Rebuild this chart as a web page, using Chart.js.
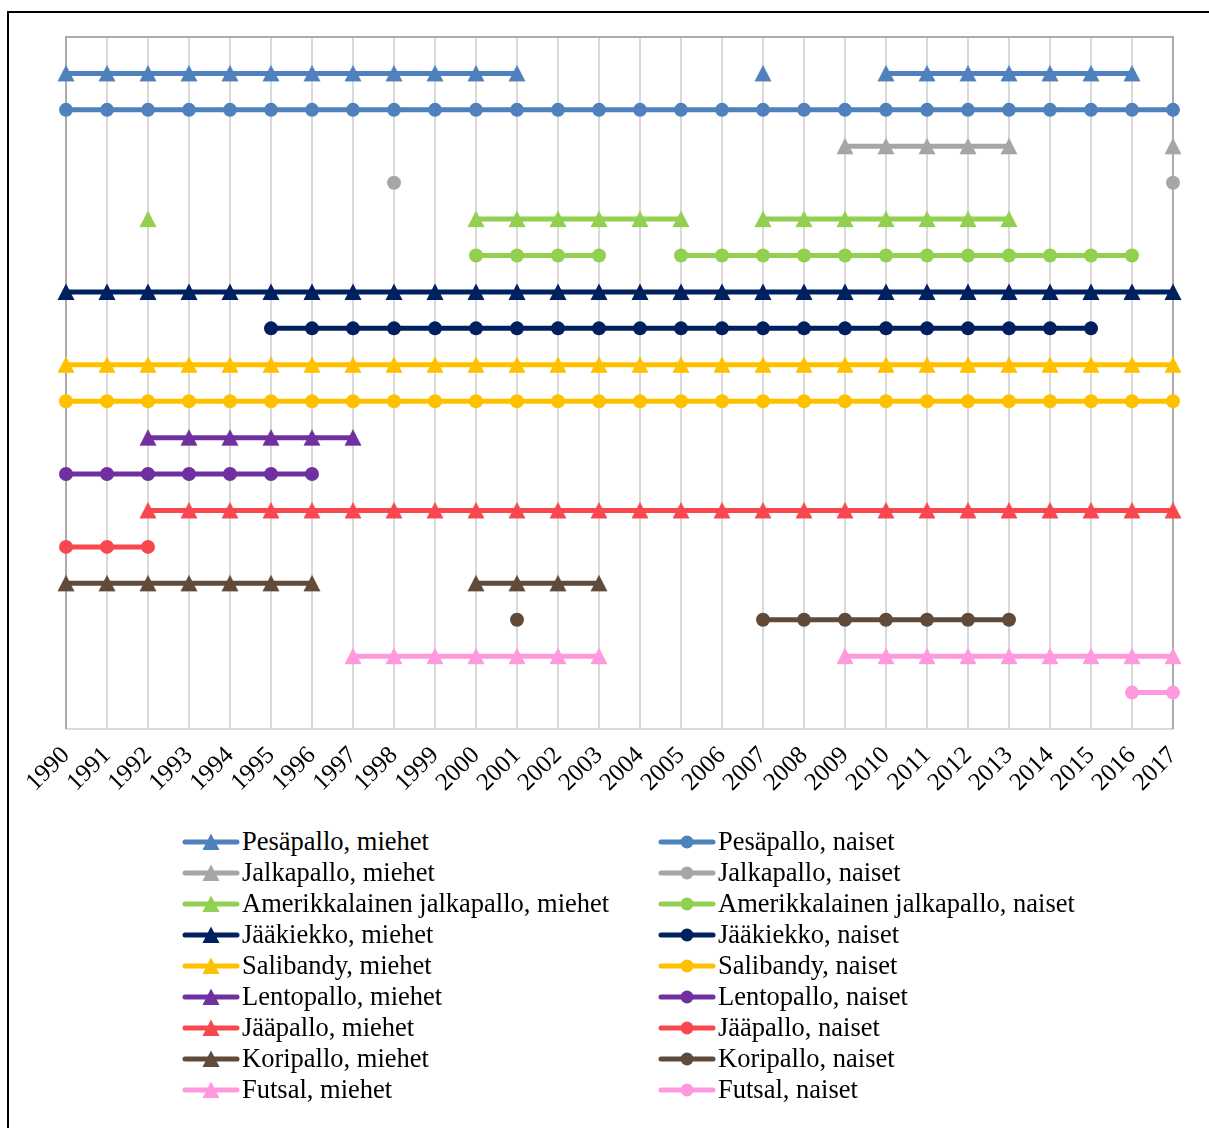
<!DOCTYPE html>
<html>
<head>
<meta charset="utf-8">
<script src="https://cdn.jsdelivr.net/npm/chart.js@4.4.0/dist/chart.umd.min.js"></script>
<style>
  html, body { margin: 0; padding: 0; background: #fff; overflow: hidden; }
  body { width: 1209px; height: 1128px; position: relative; font-family: "Liberation Serif", "Times New Roman", serif; }
  #frame { position: absolute; left: 7px; top: 11px; width: 1240px; height: 1160px; border: 2px solid #000; box-sizing: border-box; }
  #wrap { position: absolute; left: 0; top: 0; width: 1209px; height: 800px; }
  #legend { position: absolute; left: 182px; top: 826px; display: grid; grid-template-columns: 476px 476px; grid-auto-rows: 31px; }
  .item { display: flex; align-items: center; font-size: 26.5px; line-height: 31px; color: #000; white-space: nowrap; }
  .item canvas { margin-right: 2px; }
</style>
</head>
<body>
<div id="frame"></div>
<div id="wrap"><canvas id="chart"></canvas></div>
<div id="legend"></div>
<script>
const years = ['1990','1991','1992','1993','1994','1995','1996','1997','1998','1999',
  '2000','2001','2002','2003','2004','2005','2006','2007','2008','2009',
  '2010','2011','2012','2013','2014','2015','2016','2017'];

const seriesNames = [
  'Pesäpallo, miehet', 'Pesäpallo, naiset',
  'Jalkapallo, miehet', 'Jalkapallo, naiset',
  'Amerikkalainen jalkapallo, miehet', 'Amerikkalainen jalkapallo, naiset',
  'Jääkiekko, miehet', 'Jääkiekko, naiset',
  'Salibandy, miehet', 'Salibandy, naiset',
  'Lentopallo, miehet', 'Lentopallo, naiset',
  'Jääpallo, miehet', 'Jääpallo, naiset',
  'Koripallo, miehet', 'Koripallo, naiset',
  'Futsal, miehet', 'Futsal, naiset'
];

// row of each series on the (hidden) y axis, top row first
const rowLevels = [18, 17, 16, 15, 14, 13, 12, 11, 10, 9, 8, 7, 6, 5, 4, 3, 2, 1];

// years in which each series has a mark
const pesapalloMiehet = [1990,1991,1992,1993,1994,1995,1996,1997,1998,1999,2000,2001,2007,2010,2011,2012,2013,2014,2015,2016];
const pesapalloNaiset = [1990,1991,1992,1993,1994,1995,1996,1997,1998,1999,2000,2001,2002,2003,2004,2005,2006,2007,2008,2009,2010,2011,2012,2013,2014,2015,2016,2017];
const jalkapalloMiehet = [2009,2010,2011,2012,2013,2017];
const jalkapalloNaiset = [1998,2017];
const amerikkalainenMiehet = [1992,2000,2001,2002,2003,2004,2005,2007,2008,2009,2010,2011,2012,2013];
const amerikkalainenNaiset = [2000,2001,2002,2003,2005,2006,2007,2008,2009,2010,2011,2012,2013,2014,2015,2016];
const jaakiekkoMiehet = [1990,1991,1992,1993,1994,1995,1996,1997,1998,1999,2000,2001,2002,2003,2004,2005,2006,2007,2008,2009,2010,2011,2012,2013,2014,2015,2016,2017];
const jaakiekkoNaiset = [1995,1996,1997,1998,1999,2000,2001,2002,2003,2004,2005,2006,2007,2008,2009,2010,2011,2012,2013,2014,2015];
const salibandyMiehet = [1990,1991,1992,1993,1994,1995,1996,1997,1998,1999,2000,2001,2002,2003,2004,2005,2006,2007,2008,2009,2010,2011,2012,2013,2014,2015,2016,2017];
const salibandyNaiset = [1990,1991,1992,1993,1994,1995,1996,1997,1998,1999,2000,2001,2002,2003,2004,2005,2006,2007,2008,2009,2010,2011,2012,2013,2014,2015,2016,2017];
const lentopalloMiehet = [1992,1993,1994,1995,1996,1997];
const lentopalloNaiset = [1990,1991,1992,1993,1994,1995,1996];
const jaapalloMiehet = [1992,1993,1994,1995,1996,1997,1998,1999,2000,2001,2002,2003,2004,2005,2006,2007,2008,2009,2010,2011,2012,2013,2014,2015,2016,2017];
const jaapalloNaiset = [1990,1991,1992];
const koripalloMiehet = [1990,1991,1992,1993,1994,1995,1996,2000,2001,2002,2003];
const koripalloNaiset = [2001,2007,2008,2009,2010,2011,2012,2013];
const futsalMiehet = [1997,1998,1999,2000,2001,2002,2003,2009,2010,2011,2012,2013,2014,2015,2016,2017];
const futsalNaiset = [2016,2017];

const seriesYears = [
  pesapalloMiehet, pesapalloNaiset, jalkapalloMiehet, jalkapalloNaiset,
  amerikkalainenMiehet, amerikkalainenNaiset, jaakiekkoMiehet, jaakiekkoNaiset,
  salibandyMiehet, salibandyNaiset, lentopalloMiehet, lentopalloNaiset,
  jaapalloMiehet, jaapalloNaiset, koripalloMiehet, koripalloNaiset,
  futsalMiehet, futsalNaiset
];

const sportColors = ['#4F81BD', '#A6A6A6', '#92D050', '#002060', '#FFC000', '#7030A0', '#F8474F', '#604A3A', '#FF99DD'];

// triangle marker centred on its bounding box
function triangleImage(color) {
  const c = document.createElement('canvas');
  c.width = 20; c.height = 20;
  const g = c.getContext('2d');
  g.fillStyle = color;
  g.beginPath();
  g.moveTo(10, 1.5);
  g.lineTo(18.5, 18);
  g.lineTo(1.5, 18);
  g.closePath();
  g.fill();
  return c;
}

const datasets = seriesNames.map((name, i) => {
  const color = sportColors[Math.floor(i / 2)];
  const isMen = i % 2 === 0;
  return {
    label: name,
    data: years.map(y => seriesYears[i].includes(Number(y)) ? rowLevels[i] : null),
    borderColor: color,
    backgroundColor: color,
    borderWidth: 5,
    pointStyle: isMen ? triangleImage(color) : 'circle',
    pointRadius: isMen ? 10 : 7,
    pointBorderWidth: 0,
    spanGaps: false,
    clip: false
  };
});

// gray box round the plot area (left, top, right)
const plotFrame = {
  id: 'plotFrame',
  beforeDatasetsDraw(chart) {
    const { left, right, top, bottom } = chart.chartArea;
    const ctx = chart.ctx;
    ctx.save();
    ctx.strokeStyle = '#ABABAB';
    ctx.lineWidth = 2;
    ctx.beginPath();
    ctx.moveTo(left, bottom);
    ctx.lineTo(left, top);
    ctx.lineTo(right, top);
    ctx.lineTo(right, bottom);
    ctx.stroke();
    ctx.restore();
  }
};

const chart = new Chart(document.getElementById('chart'), {
  type: 'line',
  data: { labels: years, datasets },
  options: {
    responsive: true,
    maintainAspectRatio: false,
    animation: false,
    layout: { padding: { left: 66, right: 36, top: 37, bottom: 0 } },
    plugins: { legend: { display: false }, tooltip: { enabled: false } },
    scales: {
      x: {
        grid: { color: '#D9D9D9', lineWidth: 2, drawTicks: false },
        border: { color: '#D9D9D9', width: 2 },
        ticks: {
          autoSkip: false, maxRotation: 45, minRotation: 45, padding: 12,
          color: '#000', font: { family: '"Liberation Serif", "Times New Roman", serif', size: 25 }
        },
        afterFit(scale) { scale.height = 71; }
      },
      y: { display: false, min: 0, max: 19 }
    }
  },
  plugins: [plotFrame]
});

// legend: line with its marker, then the name, two columns
const legend = document.getElementById('legend');
chart.data.datasets.forEach(ds => {
  const item = document.createElement('div');
  item.className = 'item';
  const icon = document.createElement('canvas');
  icon.width = 58; icon.height = 22;
  const g = icon.getContext('2d');
  g.strokeStyle = ds.borderColor;
  g.lineWidth = 5;
  g.lineCap = 'round';
  g.beginPath();
  g.moveTo(3, 11);
  g.lineTo(55, 11);
  g.stroke();
  if (ds.pointStyle === 'circle') {
    g.fillStyle = ds.backgroundColor;
    g.beginPath();
    g.arc(29, 11, 6.5, 0, Math.PI * 2);
    g.fill();
  } else {
    g.drawImage(ds.pointStyle, 19, 1);
  }
  const text = document.createElement('span');
  text.textContent = ds.label;
  item.appendChild(icon);
  item.appendChild(text);
  legend.appendChild(item);
});
</script>
</body>
</html>
